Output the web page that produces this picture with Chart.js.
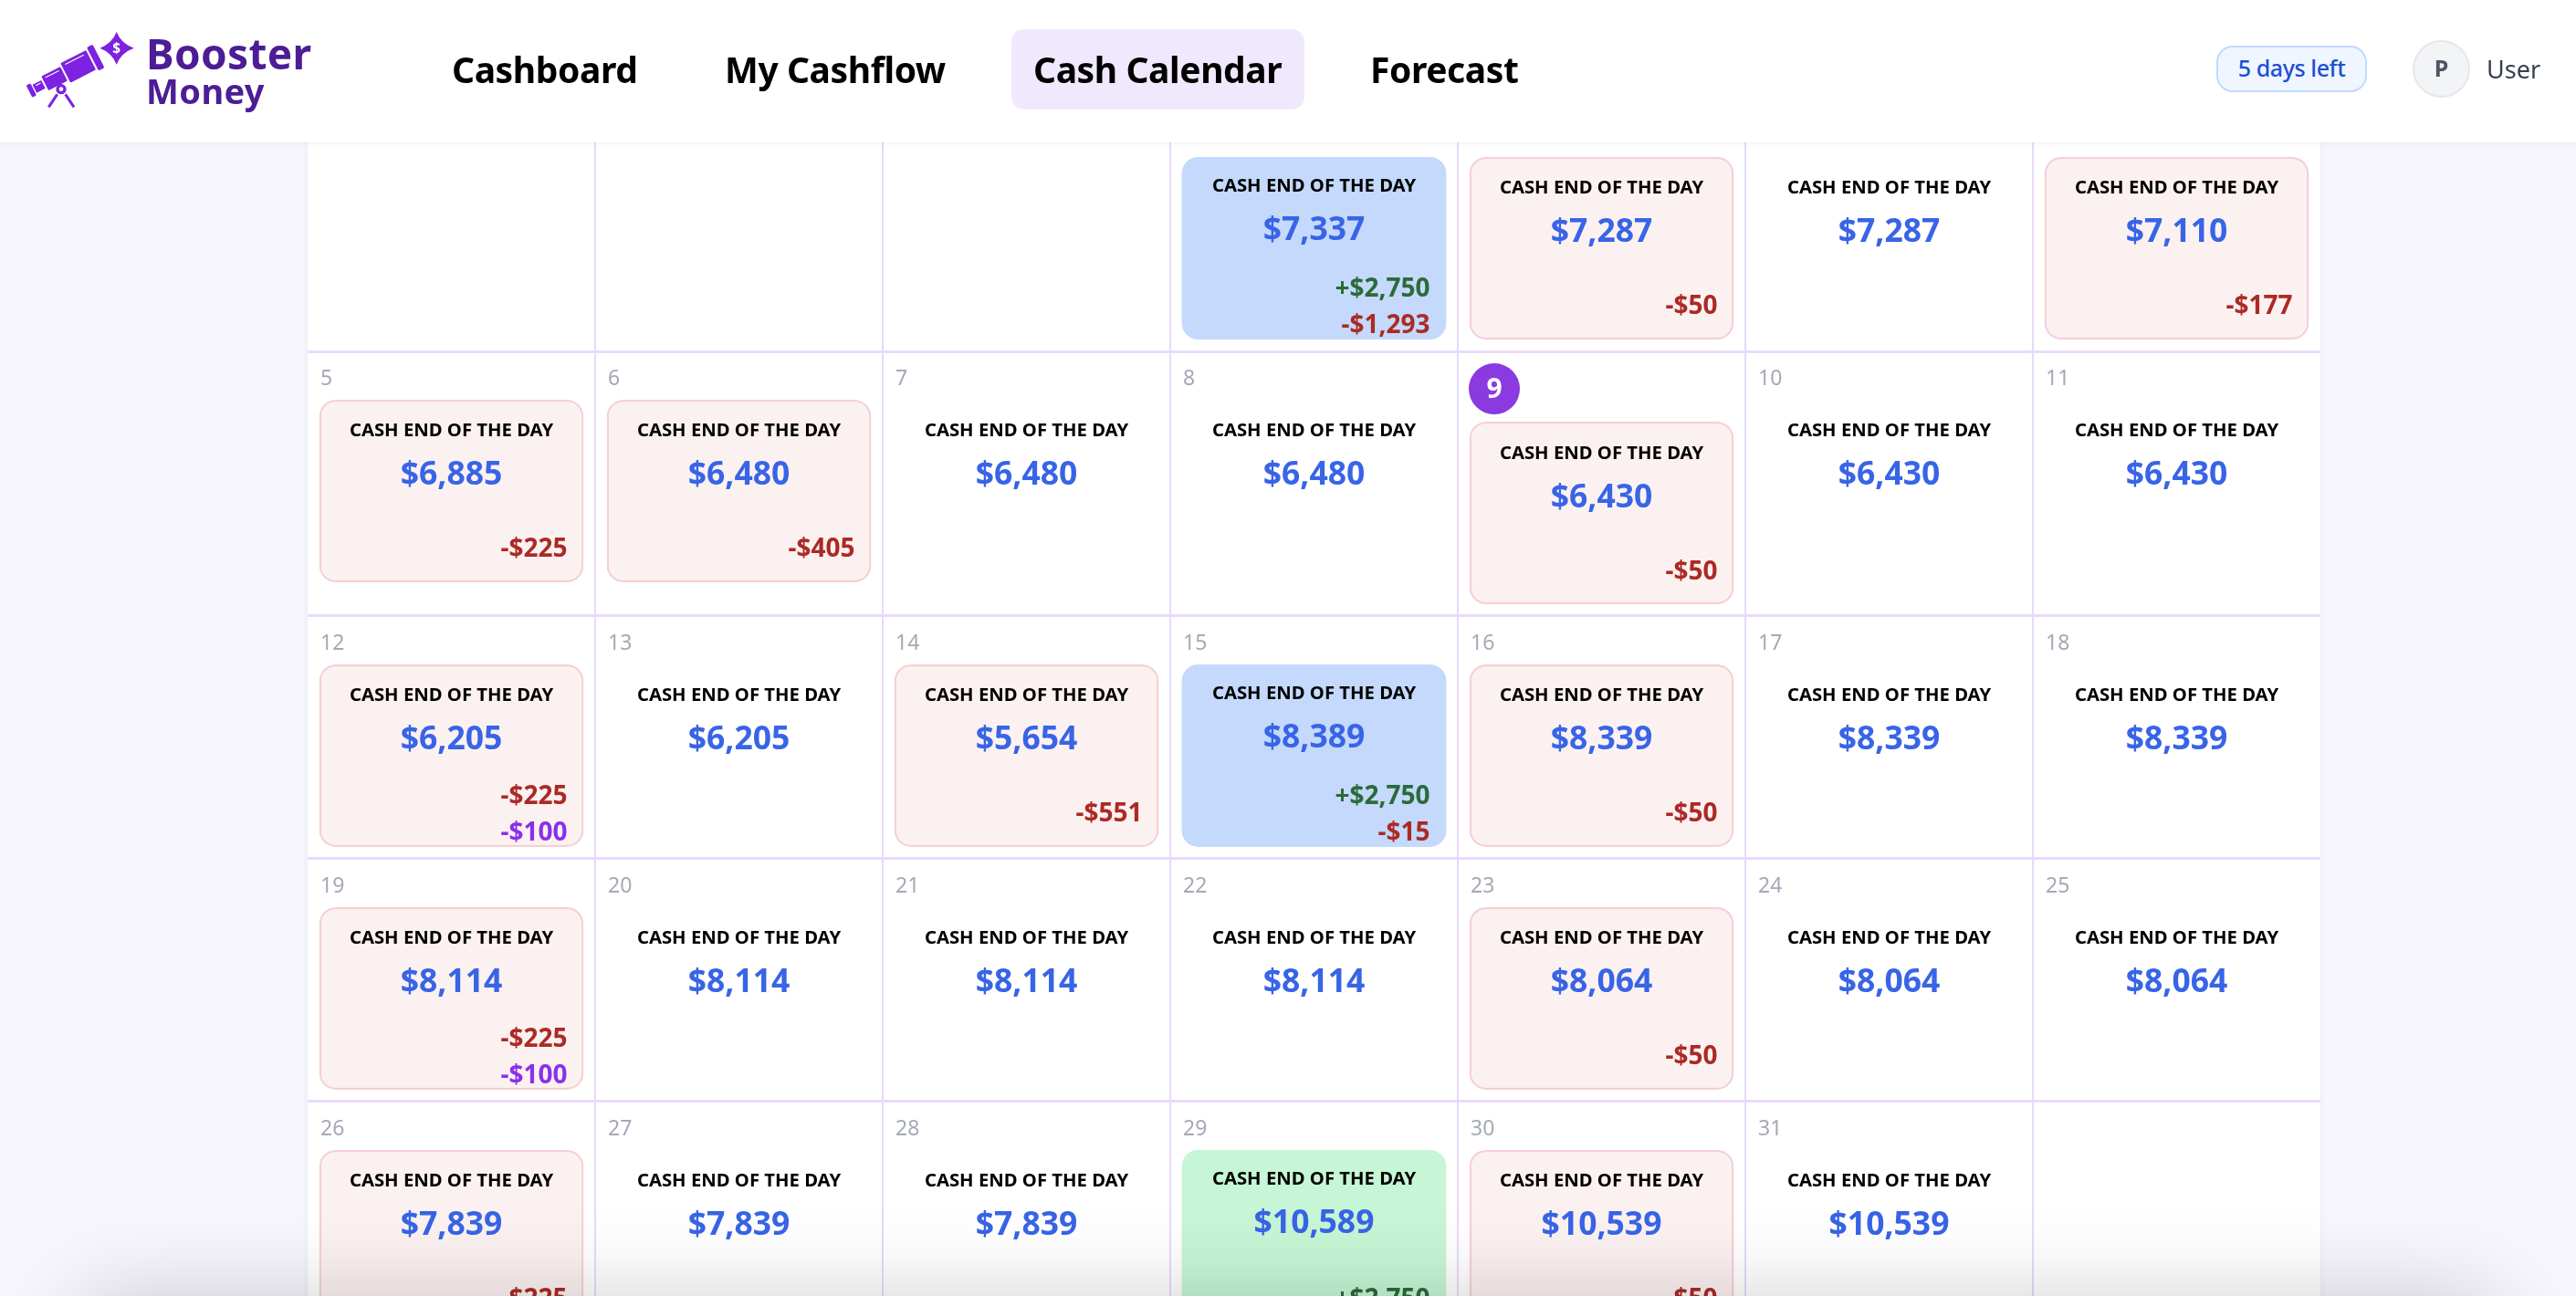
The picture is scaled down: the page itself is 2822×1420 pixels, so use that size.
<!DOCTYPE html>
<html>
<head>
<meta charset="utf-8">
<title>Cash Calendar</title>
<script src="https://cdn.jsdelivr.net/npm/chart.js@4"></script>
<style>
  html, body { margin: 0; height: 100%; overflow: hidden; background: #f7f5fe; font-family: "Noto Sans", sans-serif; }
  #calendar { position: absolute; left: 337px; top: 119px; background: #fff; box-shadow: 0 0 10px rgba(0,0,0,0.05); }
  header { position: absolute; left: 0; top: 0; width: 2822px; height: 156px; background: #fff; box-shadow: 0 2px 6px rgba(0,0,0,0.05); z-index: 2; }
  header span, header svg, header div { position: absolute; white-space: nowrap; }
  .nav { top: 50px; line-height: 52px; font-size: 39px; font-weight: 700; letter-spacing: -0.4px; color: #000; }
  #pill { left: 1108px; top: 32px; width: 321px; height: 88px; background: #f0e9fd; border-radius: 14px; }
  #trial { left: 2428px; top: 50px; width: 165px; height: 51px; box-sizing: border-box; border: 2px solid #bfdbfe; border-radius: 18px; background: #eff6ff; color: #1d4ed8; font-size: 25px; font-weight: 500; letter-spacing: -0.4px; line-height: 45px; text-align: center; }
  #avatar { left: 2643px; top: 44px; width: 63px; height: 63px; box-sizing: border-box; border: 2px solid #e5e7eb; border-radius: 50%; background: #f3f4f6; color: #4b5563; font-size: 25px; font-weight: 700; line-height: 57px; text-align: center; }
  #bottomShade { position: fixed; left: 130px; right: 130px; top: 1465px; height: 60px; box-shadow: 0 0 100px 40px rgba(0,0,0,0.2); z-index: 3; pointer-events: none; }
</style>
</head>
<body>
<header>
  <svg style="left:20px;top:25px" width="140" height="105" viewBox="0 0 420 315">
    <g fill="#7c22e0">
      <g transform="translate(43 222) rotate(-27)">
        <rect x="-8" y="-22" width="16" height="44" rx="4"/>
        <rect x="12" y="-15" width="32" height="30"/>
        <rect x="50" y="-26" width="70" height="52" rx="3"/>
        <rect x="126" y="-36" width="94" height="72" rx="3"/>
        <rect x="226" y="-43" width="22" height="86" rx="5"/>
        <rect x="20" y="-9" width="18" height="3" fill="#fff"/>
        <rect x="60" y="-18" width="50" height="3" fill="#fff"/>
        <rect x="138" y="-27" width="68" height="3" fill="#fff"/>
      </g>
      <path d="M323 30 Q338 68 380 83 Q338 98 323 137 Q308 98 268 83 Q308 68 323 30Z"/>
      <path d="M128 235 L100 277 M155 235 L183 277" stroke="#7c22e0" stroke-width="9" fill="none"/>
      <circle cx="141" cy="218" r="12" fill="#fff" stroke="#7c22e0" stroke-width="10"/>
    </g>
    <text x="323" y="99" font-size="46" font-weight="700" fill="#fff" text-anchor="middle" font-family="Noto Sans">$</text>
  </svg>
  <span style="left:160px;top:30px;font-size:46px;font-weight:700;letter-spacing:0.3px;color:#4c1d95;line-height:56px">Booster</span>
  <span style="left:160px;top:76px;font-size:38px;font-weight:700;letter-spacing:0.4px;color:#4c1d95;line-height:46px">Money</span>
  <div id="pill"></div>
  <span class="nav" style="left:495px">Cashboard</span>
  <span class="nav" style="left:794px">My Cashflow</span>
  <span class="nav" style="left:1132px">Cash Calendar</span>
  <span class="nav" style="left:1501px">Forecast</span>
  <div id="trial">5 days left</div>
  <div id="avatar">P</div>
  <span style="left:2724px;top:58px;font-size:27px;line-height:36px;color:#374151">User</span>
</header>
<canvas id="calendar" width="2205" height="1354"></canvas>
<div id="bottomShade"></div>
<script>
// Calendar data, one entry per cell, Sunday first
const weekdays = ['Sun', 'Mon', 'Tue', 'Wed', 'Thu', 'Fri', 'Sat'];
const dayNumbers = [
  null, null, null, 1, 2, 3, 4,
  5, 6, 7, 8, 9, 10, 11,
  12, 13, 14, 15, 16, 17, 18,
  19, 20, 21, 22, 23, 24, 25,
  26, 27, 28, 29, 30, 31, null
];
const cashEnd = [
  null, null, null, 7337, 7287, 7287, 7110,
  6885, 6480, 6480, 6480, 6430, 6430, 6430,
  6205, 6205, 5654, 8389, 8339, 8339, 8339,
  8114, 8114, 8114, 8114, 8064, 8064, 8064,
  7839, 7839, 7839, 10589, 10539, 10539, null
];
const moneyIn = [
  0, 0, 0, 2750, 0, 0, 0,
  0, 0, 0, 0, 0, 0, 0,
  0, 0, 0, 2750, 0, 0, 0,
  0, 0, 0, 0, 0, 0, 0,
  0, 0, 0, 2750, 0, 0, 0
];
const moneyOut = [
  0, 0, 0, 1293, 50, 0, 177,
  225, 405, 0, 0, 50, 0, 0,
  225, 0, 551, 15, 50, 0, 0,
  225, 0, 0, 0, 50, 0, 0,
  225, 0, 0, 0, 50, 0, 0
];
const otherOut = [
  0, 0, 0, 0, 0, 0, 0,
  0, 0, 0, 0, 0, 0, 0,
  100, 0, 0, 0, 0, 0, 0,
  100, 0, 0, 0, 0, 0, 0,
  0, 0, 0, 0, 0, 0, 0
];
const today = 9;

// Row edges on the y axis, one unit is a normal row (the row with today is taller)
const rowEdges = [0, 1, 2.09, 3.09, 4.09, 5.09];
const rowPx = 266;
const cardTop = 53 / rowPx;
const cardBottom = 253 / rowPx;
const todayShift = 24 / rowPx;

function cardKind(i) {
  if (moneyIn[i] > 0) return moneyOut[i] > 0 ? 'blue' : 'green';
  return moneyOut[i] > 0 ? 'pink' : null;
}

const fills = { blue: '#c4d9fb', green: '#c6f6d5', pink: '#fcf1f1' };

// Floating bars, one dataset per week
const datasets = rowEdges.slice(0, 5).map((edge, week) => {
  const data = weekdays.map((_, col) => {
    const i = week * 7 + col;
    if (!cardKind(i)) return null;
    const shift = dayNumbers[i] === today ? todayShift : 0;
    return [edge + cardTop + shift, edge + cardBottom + shift];
  });
  return {
    data: data,
    backgroundColor: c => fills[cardKind(week * 7 + c.dataIndex)],
    borderColor: '#f6d0d4',
    borderWidth: c => cardKind(week * 7 + c.dataIndex) === 'pink' ? 2.5 : 0,
    borderSkipped: false,
    borderRadius: 18,
    barPercentage: 0.92,
    categoryPercentage: 1,
    grouped: false
  };
});

function money(v) {
  return '$' + v.toLocaleString('en-US');
}

function put(ctx, text, x, y, font, color, align, spacing) {
  ctx.font = font;
  ctx.fillStyle = color;
  ctx.textAlign = align;
  ctx.textBaseline = 'middle';
  ctx.letterSpacing = spacing || '0px';
  ctx.fillText(text, x, y);
}

// Texts of every cell, placed from the chart's own scales
const cellText = {
  id: 'cellText',
  afterDatasetsDraw(chart) {
    const ctx = chart.ctx;
    const xs = chart.scales.x;
    const ys = chart.scales.y;
    const face = '"Noto Sans", sans-serif';
    const band = xs.width / 7;
    ctx.save();
    dayNumbers.forEach((day, i) => {
      if (day === null) return;
      const week = Math.floor(i / 7);
      const cx = xs.getPixelForValue(i % 7);
      const top = ys.getPixelForValue(rowEdges[week]);
      const shift = day === today ? 25 : 0;
      const kind = cardKind(i);
      const lift = kind === 'blue' || kind === 'green' ? 2 : 0;

      if (day === today) {
        ctx.fillStyle = '#8a3ae0';
        ctx.beginPath();
        ctx.arc(cx - band / 2 + 40, top + 41, 28, 0, Math.PI * 2);
        ctx.fill();
        put(ctx, String(day), cx - band / 2 + 40, top + 42, '700 30px ' + face, '#fff', 'center');
      } else {
        put(ctx, String(day), cx - band / 2 + 14, top + 30, '400 23px ' + face, '#a5a9b5', 'left');
      }

      put(ctx, 'CASH END OF THE DAY', cx, top + 87 + shift - lift, '700 20.3px ' + face, '#000', 'center');
      put(ctx, money(cashEnd[i]), cx, top + 136 + shift - lift, '700 35.5px ' + face, '#3864e6', 'center');

      const right = cx + 127;
      const lines = [];
      if (moneyIn[i] > 0) lines.push(['+' + money(moneyIn[i]), '#2b6a3a']);
      if (moneyOut[i] > 0) lines.push(['-' + money(moneyOut[i]), '#ab2a25']);
      if (otherOut[i] > 0) lines.push(['-' + money(otherOut[i]), '#8a30ea']);
      const first = lines.length > 1 ? 198 : 217;
      lines.forEach((line, n) => {
        put(ctx, line[0], right, top + first + shift + n * 40, '700 28px ' + face, line[1], 'right');
      });
    });
    ctx.restore();
  }
};

new Chart(document.getElementById('calendar'), {
  type: 'bar',
  data: { labels: weekdays, datasets: datasets },
  plugins: [cellText],
  options: {
    responsive: false,
    animation: false,
    layout: { padding: 0 },
    plugins: { legend: { display: false }, tooltip: { enabled: false } },
    scales: {
      x: {
        ticks: { display: false },
        border: { display: false },
        grid: {
          drawTicks: false,
          lineWidth: 2,
          color: c => (c.type === 'tick' && c.index > 0) ? '#e6dafa' : 'transparent'
        }
      },
      y: {
        reverse: true,
        min: 0,
        max: rowEdges[rowEdges.length - 1],
        afterBuildTicks: scale => { scale.ticks = rowEdges.map(v => ({ value: v })); },
        ticks: { display: false },
        border: { display: false },
        grid: { drawTicks: false, lineWidth: 3, color: '#e9dbfd' }
      }
    }
  }
});
</script>
</body>
</html>
